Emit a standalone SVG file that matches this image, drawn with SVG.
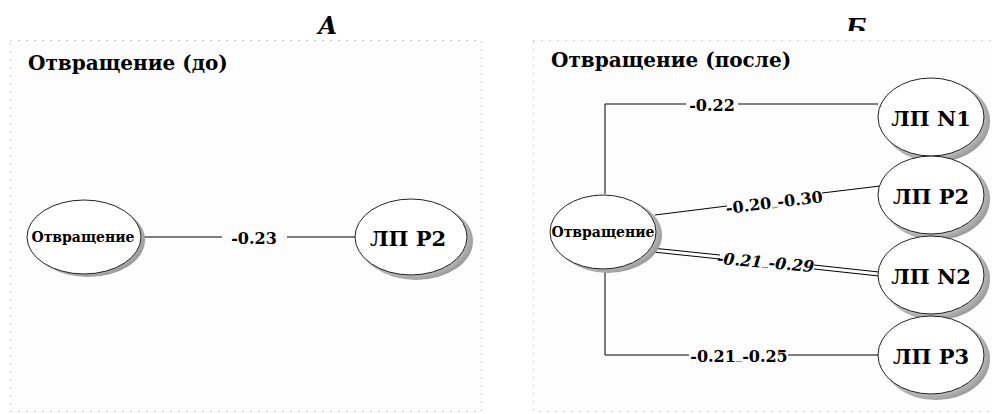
<svg xmlns="http://www.w3.org/2000/svg" width="992" height="414" viewBox="0 0 992 414" font-family="'DejaVu Serif', 'Liberation Serif', serif" font-weight="bold">
<defs>
<radialGradient id="sh" cx="0.45" cy="0.45" r="0.6">
<stop offset="0.75" stop-color="#c8c8c8"/>
<stop offset="1" stop-color="#8a8a8a"/>
</radialGradient>
<clipPath id="cutB"><rect x="820" y="0" width="80" height="31"/></clipPath>
</defs>
<style>
.frame{fill:#fdfdfd;stroke:#a0a0a0;stroke-width:1;stroke-dasharray:1 7}
.title{font-size:20px}
.panel{font-size:24px;font-style:italic}
.lab{font-size:16px}
.small{font-size:6px}
.ell{fill:#fff;stroke:#222;stroke-width:1}
.shd{fill:url(#sh)}
.big{font-size:21px;text-anchor:middle}
.mid{font-size:14px;text-anchor:middle}
.ln{fill:none;stroke:#000;stroke-width:1}
</style>
<rect width="992" height="414" fill="#fff"/>
<rect class="frame" x="10.5" y="40.5" width="471" height="371"/>
<rect class="frame" x="533.5" y="40.5" width="470" height="371"/>
<text class="panel" x="318" y="34">А</text>
<g clip-path="url(#cutB)"><text class="panel" x="846" y="36">Б</text></g>
<text class="title" x="28" y="70">Отвращение (до)</text>
<text class="title" x="551" y="67">Отвращение (после)</text>
<g id="connectors">
<line class="ln" x1="142" y1="237" x2="222" y2="237" stroke="#555"/>
<line class="ln" x1="287" y1="237" x2="356" y2="237"/>
<text class="lab" x="254" y="244" text-anchor="middle">-0.23</text>
<polyline class="ln" points="605,194 605,104 686,104"/>
<line class="ln" x1="738" y1="104" x2="878" y2="104"/>
<text class="lab" x="712" y="111" text-anchor="middle">-0.22</text>
<line class="ln" x1="655" y1="215" x2="727" y2="206"/>
<line class="ln" x1="822" y1="193" x2="880" y2="186"/>
<text class="lab" transform="translate(775,208) rotate(-7)" text-anchor="middle">-0.20<tspan class="small">...</tspan>-0.30</text>
<line class="ln" x1="652" y1="248" x2="720" y2="255"/>
<line class="ln" x1="653" y1="252" x2="720" y2="259"/>
<line class="ln" x1="814" y1="265" x2="879" y2="272"/>
<line class="ln" x1="814" y1="269" x2="879" y2="276"/>
<text font-style="italic" class="lab" transform="translate(765,268) rotate(5)" text-anchor="middle">-0.21<tspan class="small">...</tspan>-0.29</text>
<polyline class="ln" points="605,270 605,355 689,355"/>
<line class="ln" x1="788" y1="355" x2="878" y2="355"/>
<text class="lab" x="739" y="362" text-anchor="middle">-0.21<tspan class="small">...</tspan>-0.25</text>
</g>
<g id="n-left-otv">
<ellipse class="shd" cx="88" cy="240" rx="57" ry="37"/>
<ellipse class="ell" cx="84" cy="237" rx="57" ry="37"/>
<text class="mid" x="83" y="242">Отвращение</text>
</g>
<g id="n-left-lp-p2">
<ellipse class="shd" cx="416" cy="241" rx="57" ry="39"/>
<ellipse class="ell" cx="411" cy="237" rx="56" ry="38"/>
<text class="big" x="408" y="246">ЛП Р2</text>
</g>
<g id="n-right-otv">
<ellipse class="shd" cx="608" cy="235" rx="54" ry="38"/>
<ellipse class="ell" cx="603" cy="232" rx="53" ry="37"/>
<text class="mid" x="603" y="237">Отвращение</text>
</g>
<g id="n-lp-n1">
<ellipse class="shd" cx="936" cy="121" rx="54" ry="41"/>
<ellipse class="ell" cx="931" cy="117" rx="53" ry="39"/>
<text class="big" x="931" y="126">ЛП N1</text>
</g>
<g id="n-lp-p2">
<ellipse class="shd" cx="936" cy="199" rx="54" ry="41"/>
<ellipse class="ell" cx="931" cy="195" rx="53" ry="39"/>
<text class="big" x="931" y="204">ЛП Р2</text>
</g>
<g id="n-lp-n2">
<ellipse class="shd" cx="936" cy="279" rx="54" ry="41"/>
<ellipse class="ell" cx="931" cy="275" rx="53" ry="39"/>
<text class="big" x="931" y="284">ЛП N2</text>
</g>
<g id="n-lp-p3">
<ellipse class="shd" cx="936" cy="359" rx="54" ry="41"/>
<ellipse class="ell" cx="931" cy="355" rx="53" ry="39"/>
<text class="big" x="931" y="364">ЛП Р3</text>
</g>
</svg>
